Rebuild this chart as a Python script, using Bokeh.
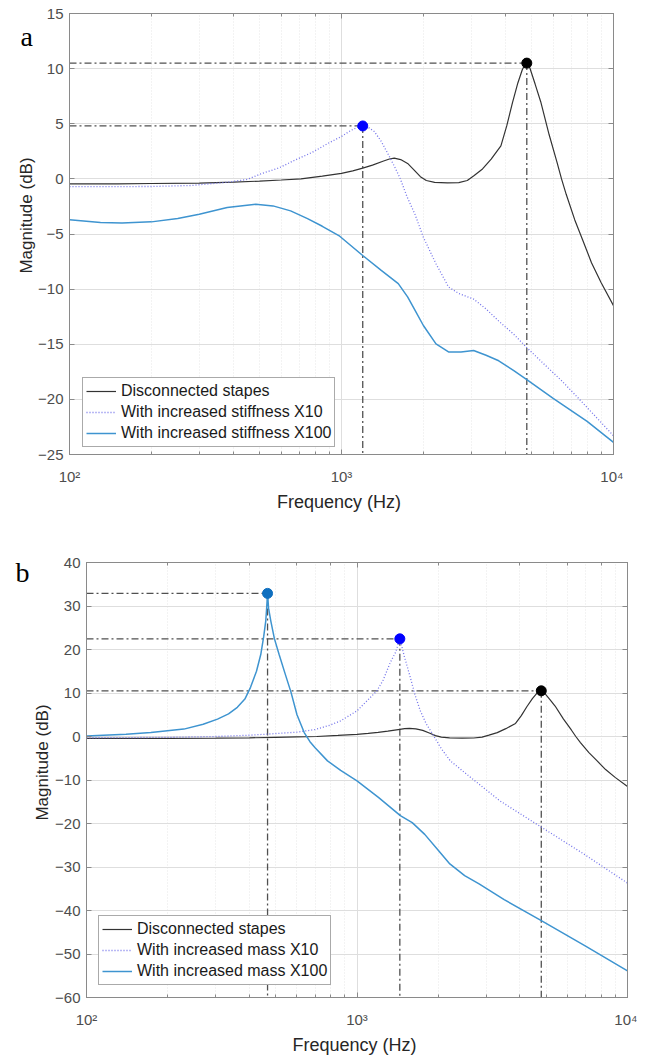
import numpy as np
from bokeh.plotting import figure
from bokeh.models import (Range1d, LogAxis, LinearAxis, FixedTicker, LogTicker,
                          Legend, LegendItem, Label)
from bokeh.embed import file_html
from bokeh.resources import INLINE

# ---------------- data ----------------
# Disconnected stapes (same curve in both panels)
freq_base = [100, 150, 200, 300, 400, 500, 600, 710, 850, 1000, 1100, 1197, 1300, 1420, 1500,
             1563, 1650, 1750, 1850, 1950, 2050, 2200, 2450, 2700, 2900, 3075, 3300, 3550,
             3855, 4050, 4250, 4450, 4620, 4720, 4800, 4920, 5150, 5400, 5800, 6200,
             6440, 6700, 7200, 7690, 8300, 9000, 10000]
db_base = [-0.45, -0.45, -0.42, -0.38, -0.3, -0.2, -0.1, 0.0, 0.25, 0.5, 0.72, 0.97, 1.25, 1.6, 1.8,
           1.88, 1.75, 1.4, 0.8, 0.2, -0.15, -0.32, -0.36, -0.34, -0.15, 0.3, 0.9, 1.8,
           3.0, 4.8, 6.9, 8.7, 9.9, 10.35, 10.5, 10.1, 8.6, 7.0, 4.0, 1.5,
           0.0, -1.4, -3.7, -5.5, -7.6, -9.4, -11.5]

# Panel a: increased stiffness X10
freq_k10 = [100, 150, 200, 280, 382, 450, 506, 590, 670, 780, 889, 1000, 1084, 1150, 1197, 1250,
            1320, 1400, 1480, 1560, 1640, 1740, 1862, 2000, 2225, 2474, 2700, 3058, 3400, 3785,
            4300, 4800, 5500, 6440, 7500, 8700, 10000]
db_k10 = [-0.7, -0.7, -0.69, -0.6, -0.3, -0.05, 0.46, 1.0, 1.67, 2.4, 3.2, 3.85, 4.4, 4.7, 4.8, 4.7,
          4.3, 3.4, 2.3, 1.2, 0.1, -1.6, -3.2, -5.3, -7.7, -9.8, -10.4, -10.9, -11.8, -12.9,
          -14.1, -15.3, -16.7, -18.3, -20.0, -21.7, -23.3]

# Panel a: increased stiffness X100
freq_k100 = [100, 130, 156, 200, 250, 300, 380, 484, 560, 650, 750, 850, 985, 1197, 1400, 1617,
             1750, 1862, 2000, 2225, 2474, 2750, 3060, 3400, 3785, 4300, 4800, 6000, 8000, 10000]
db_k100 = [-3.7, -3.95, -4.0, -3.9, -3.6, -3.2, -2.6, -2.3, -2.45, -2.9, -3.6, -4.3, -5.2, -6.95,
           -8.3, -9.5, -10.7, -11.9, -13.3, -14.96, -15.7, -15.7, -15.57, -16.0, -16.5, -17.4,
           -18.2, -19.9, -22.0, -23.9]

# Panel b: increased mass X10
freq_m10 = [100, 200, 300, 400, 467, 600, 700, 794, 871, 1000, 1185, 1250, 1327, 1390, 1440,
            1495, 1574, 1640, 1714, 1800, 1918, 2050, 2213, 2630, 3375, 4820, 6890, 10000]
db_m10 = [-0.3, -0.2, 0.0, 0.3, 0.55, 1.0, 1.6, 2.6, 3.6, 5.9, 10.5, 13.0, 17.0, 19.4, 22.45,
          18.5, 13.6, 9.5, 5.9, 3.0, 0.2, -2.8, -5.6, -9.4, -14.8, -20.9, -27.0, -33.7]

# Panel b: increased mass X100
freq_m100 = [100, 140, 173, 229, 270, 305, 335, 361, 385, 404, 425, 441, 452, 460, 464, 467, 471,
             480, 495, 515, 540, 570, 600, 620, 638, 670, 700, 778, 870, 1000, 1200, 1446, 1600,
             1780, 2000, 2204, 2500, 2827, 3500, 4820, 7000, 10000]
db_m100 = [0.1, 0.5, 0.9, 1.7, 2.8, 4.0, 5.2, 6.7, 8.6, 11.3, 15.0, 18.9, 23.0, 26.6, 30.0, 32.9,
           29.5, 26.6, 22.5, 18.9, 14.8, 10.2, 5.0, 2.8, 0.9, -1.2, -2.6, -5.6, -7.8, -10.2, -14.0,
           -18.2, -19.8, -22.5, -26.2, -29.3, -32.0, -33.9, -37.5, -42.4, -48.2, -53.9]

x_limits = [100, 10000]
y_limits_a = [-25, 15]
y_limits_b = [-60, 40]
y_ticks_a = [-25, -20, -15, -10, -5, 0, 5, 10, 15]
y_ticks_b = [-60, -50, -40, -30, -20, -10, 0, 10, 20, 30, 40]
x_tick_labels = {100: "10²", 1000: "10³", 10000: "10⁴"}

labels_a = ["Disconnected stapes", "With increased stiffness X10", "With increased stiffness X100"]
labels_b = ["Disconnected stapes", "With increased mass X10", "With increased mass X100"]

# ---------------- style ----------------
FONT = "Liberation Sans"
C_BLACK = "#333333"
C_DOT = "#7474ea"
C_LBLUE = "#3e94d0"
AX_COLOR = "#8a8a8a"
TICK_COLOR = "#4d4d4d"


def make_panel(width, height, borders, y_lim, y_ticks, series, legend_labels, dot_colors,
               legend_loc, letter, letter_px, ylabel_px):
    left, right, top, bottom = borders
    frame_w = width - left - right
    frame_h = height - top - bottom
    p = figure(width=width, height=height, x_axis_type="log",
               x_range=Range1d(*x_limits), y_range=Range1d(*y_lim),
               output_backend="svg", toolbar_location=None,
               min_border_left=left, min_border_right=right,
               min_border_top=top, min_border_bottom=bottom,
               background_fill_color="white", border_fill_color="white")
    p.outline_line_color = AX_COLOR

    # convert pixel offsets (from frame left / frame top) into data positions
    decades = np.log10(x_limits[1]) - np.log10(x_limits[0])

    def px_x(dx):
        return float(10 ** (np.log10(x_limits[0]) + dx * decades / frame_w))

    def px_y(dy):
        return float(y_lim[1] - dy * (y_lim[1] - y_lim[0]) / frame_h)

    # axes
    xa = p.xaxis[0]
    xa.major_label_overrides = x_tick_labels
    xa.axis_label = "Frequency  (Hz)"
    ya = p.yaxis[0]
    ya.ticker = FixedTicker(ticks=y_ticks, minor_ticks=[])
    for ax in (xa, ya):
        ax.axis_line_color = AX_COLOR
        ax.major_tick_line_color = AX_COLOR
        ax.minor_tick_line_color = AX_COLOR
        ax.major_tick_in = 5
        ax.major_tick_out = 0
        ax.minor_tick_in = 3
        ax.minor_tick_out = 0
        ax.major_label_text_font = FONT
        ax.major_label_text_font_size = "15px"
        ax.major_label_text_color = TICK_COLOR
        ax.axis_label_text_font = FONT
        ax.axis_label_text_font_size = "18px"
        ax.axis_label_text_font_style = "normal"
        ax.axis_label_text_color = "#262626"
    xa.major_label_standoff = 13
    xa.axis_label_standoff = 4
    ya.major_label_standoff = 6
    ya.minor_tick_line_color = None

    # tick marks on the top and right sides (no labels)
    top_ax = LogAxis(ticker=LogTicker(), major_label_text_alpha=0.0,
                     major_label_text_font_size="6px", major_label_overrides=x_tick_labels,
                     major_label_standoff=0, axis_line_color=AX_COLOR,
                     major_tick_line_color=AX_COLOR, minor_tick_line_color=AX_COLOR,
                     major_tick_in=5, major_tick_out=0, minor_tick_in=3, minor_tick_out=0)
    right_ax = LinearAxis(ticker=FixedTicker(ticks=y_ticks, minor_ticks=[]),
                          major_label_text_alpha=0.0, major_label_text_font_size="6px",
                          major_label_standoff=0,
                          axis_line_color=AX_COLOR, major_tick_line_color=AX_COLOR,
                          minor_tick_line_color=None, major_tick_in=5, major_tick_out=0)
    p.add_layout(top_ax, "above")
    p.add_layout(right_ax, "right")

    # grids
    p.xgrid.grid_line_color = "#dedede"
    p.xgrid.minor_grid_line_color = "#e6e6e6"
    p.xgrid.minor_grid_line_dash = "1 2"
    p.ygrid.grid_line_color = "#dedede"

    styles = [dict(line_color=C_BLACK, line_width=1.2),
              dict(line_color=C_DOT, line_width=1.3, line_dash="1 2"),
              dict(line_color=C_LBLUE, line_width=1.5)]

    # reference lines to peaks (drawn first, under curves)
    peak_items = []
    for (f, d), dc in zip(series, dot_colors):
        if dc is None:
            continue
        i = int(np.argmax(d))
        pf, pd_ = f[i], d[i]
        p.segment(x0=[x_limits[0]], y0=[pd_], x1=[pf], y1=[pd_], line_color="#505050",
                  line_width=1.3, line_dash="7 3 2 3")
        p.segment(x0=[pf], y0=[pd_], x1=[pf], y1=[y_lim[0]], line_color="#505050",
                  line_width=1.3, line_dash="7 3 2 3")
        peak_items.append((pf, pd_, dc))

    renderers = []
    for (f, d), st in zip(series, styles):
        renderers.append(p.line(f, d, **st))

    for pf, pd_, dc in peak_items:
        p.scatter([pf], [pd_], size=10, fill_color=dc, line_color=dc)

    legend = Legend(items=[LegendItem(label=l, renderers=[r]) for l, r in zip(legend_labels, renderers)],
                    location=legend_loc)
    legend.label_text_font = FONT
    legend.label_text_font_size = "16px"
    legend.label_text_color = "#1a1a1a"
    legend.border_line_color = "#555555"
    legend.border_line_width = 1
    legend.background_fill_alpha = 1.0
    legend.glyph_width = 30
    legend.glyph_height = 20
    legend.label_height = 20
    legend.spacing = 1
    legend.padding = 3
    legend.margin = 0
    legend.label_standoff = 5
    p.add_layout(legend)

    # texts left of the frame go into the left side panel (not clipped to the frame)
    p.add_layout(Label(x=px_x(letter_px[0]), y=px_y(letter_px[1]),
                       text=letter, text_font="Liberation Serif", text_font_size="28px",
                       text_color="#000000", text_baseline="alphabetic", text_align="left"),
                 "left")
    p.add_layout(Label(x=px_x(ylabel_px[0]), y=px_y(ylabel_px[1]),
                       text="Magnitude (dB)", angle=np.pi / 2, text_font=FONT,
                       text_font_size="17px", text_color="#262626",
                       text_align="center", text_baseline="middle"),
                 "left")
    return p


# panel a: frame 69..613 x 13..454
pa = make_panel(623, 525, (69, 10, 13, 71), y_limits_a, y_ticks_a,
                [(freq_base, db_base), (freq_k10, db_k10), (freq_k100, db_k100)],
                labels_a, ["#000000", "#0000ff", None],
                (13, 7), "a", (-49, 23), (-43.5, 202))

# panel b: frame 86..627 x 562..997 (figure starts at y = 525)
pb = make_panel(637, 534, (86, 10, 37, 62), y_limits_b, y_ticks_b,
                [(freq_base, db_base), (freq_m10, db_m10), (freq_m100, db_m100)],
                labels_b, ["#000000", "#0000ff", "#0f6fbf"],
                (12, 12), "b", (-71, 10), (-44, 200))

open("out.html", "w").write(file_html([pa, pb], INLINE))
